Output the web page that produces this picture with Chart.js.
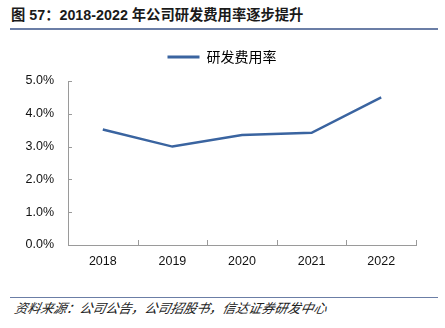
<!DOCTYPE html>
<html>
<head>
<meta charset="utf-8">
<script src="https://cdn.jsdelivr.net/npm/chart.js@4/dist/chart.umd.min.js"></script>
<style>
  html, body { margin: 0; padding: 0; background: #fff; }
  #wrap { position: relative; width: 445px; height: 328px; overflow: hidden; }
  #title {
    position: absolute; left: 11px; top: 3px;
    font-family: "Liberation Sans", "Noto Sans CJK SC", sans-serif;
    font-weight: bold; font-size: 14.3px; color: #1a1a1a; white-space: nowrap;
  }
  #title .cjk { font-family: "Noto Sans CJK SC", sans-serif; }
  #rule-top { position: absolute; left: 10px; top: 28px; width: 428px; height: 2px; background: #6b7ea6; }
  #rule-bot { position: absolute; left: 10px; top: 297px; width: 428px; height: 1px; background: #6b7ea6; }
  #source {
    position: absolute; left: 13px; top: 298px;
    font-family: "Noto Sans CJK SC", sans-serif; font-style: italic;
    font-size: 13px; color: #222; white-space: nowrap;
    transform: skewX(-12deg); transform-origin: left bottom;
  }
  #chartBox { position: absolute; left: 0; top: 30px; width: 445px; height: 265px; }
</style>
</head>
<body>
<div id="wrap">
  <div id="title"><span class="cjk">图</span> 57<span class="cjk">：</span>2018-2022 <span class="cjk">年公司研发费用率逐步提升</span></div>
  <div id="rule-top"></div>
  <div id="chartBox"><canvas id="c"></canvas></div>
  <div id="rule-bot"></div>
  <div id="source">资料来源：公司公告，公司招股书，信达证券研发中心</div>
</div>
<script>
const years = ['2018', '2019', '2020', '2021', '2022'];
const rdRatio = [3.52, 3.00, 3.35, 3.42, 4.50];
const seriesName = '研发费用率';
const yTicks = [0, 1, 2, 3, 4, 5];

// extra room between the legend and the plot area, and centre the legend over the canvas
const legendGap = {
  id: 'legendGap',
  beforeInit(chart) {
    const fit = chart.legend.fit;
    chart.legend.fit = function () {
      fit.call(this);
      this.height += 7;
    };
  },
  afterLayout(chart) {
    const lg = chart.legend;
    lg.left += 14;
    lg.right += 14;
  }
};

// short tick marks drawn on the inner side of both axes
const innerTicks = {
  id: 'innerTicks',
  afterDatasetsDraw(chart) {
    const ctx = chart.ctx;
    const x = chart.scales.x, y = chart.scales.y;
    ctx.save();
    ctx.strokeStyle = '#9a9a9a';
    ctx.lineWidth = 1;
    ctx.beginPath();
    y.ticks.forEach((t, i) => {
      const py = Math.round(y.getPixelForTick(i)) + 0.5;
      ctx.moveTo(x.left, py);
      ctx.lineTo(x.left + 4, py);
    });
    const n = years.length;
    const w = (x.right - x.left) / n;
    for (let k = 1; k <= n; k++) {
      const px = Math.round(x.left + k * w) + 0.5;
      ctx.moveTo(px, y.bottom);
      ctx.lineTo(px, y.bottom - 5);
    }
    ctx.stroke();
    ctx.restore();
  }
};

new Chart(document.getElementById('c'), {
  type: 'line',
  data: {
    labels: years,
    datasets: [{
      label: seriesName,
      data: rdRatio,
      borderColor: '#3a64a0',
      backgroundColor: '#3a64a0',
      borderWidth: 2.5,
      pointRadius: 0,
      tension: 0
    }]
  },
  options: {
    responsive: true,
    maintainAspectRatio: false,
    animation: false,
    layout: { padding: { left: 0, right: 29, top: 1, bottom: 17 } },
    plugins: {
      legend: {
        display: true,
        position: 'top',
        labels: {
          boxWidth: 32, boxHeight: 0, padding: 19,
          color: '#333',
          font: { family: '"Noto Sans CJK SC", sans-serif', size: 14 },
          generateLabels(chart) {
            return [{
              text: seriesName,
              strokeStyle: '#3a64a0',
              fillStyle: '#3a64a0',
              lineWidth: 3,
              datasetIndex: 0
            }];
          }
        }
      },
      tooltip: { enabled: false }
    },
    scales: {
      x: {
        offset: true,
        grid: { display: true, drawOnChartArea: false, drawTicks: false, offset: true },
        border: { display: true, color: '#9a9a9a', width: 1 },
        ticks: {
          color: '#111', padding: 9,
          font: { family: '"Liberation Sans", sans-serif', size: 12.5 }
        }
      },
      y: {
        min: 0, max: 5,
        afterBuildTicks(scale) { scale.ticks = yTicks.map(v => ({ value: v })); },
        afterFit(scale) { scale.width = 68; },
        grid: { display: true, drawOnChartArea: false, drawTicks: false },
        border: { display: true, color: '#9a9a9a', width: 1 },
        ticks: {
          color: '#111', padding: 14,
          font: { family: '"Liberation Sans", sans-serif', size: 12.5 },
          callback: v => v.toFixed(1) + '%'
        }
      }
    }
  },
  plugins: [legendGap, innerTicks]
});
</script>
</body>
</html>
